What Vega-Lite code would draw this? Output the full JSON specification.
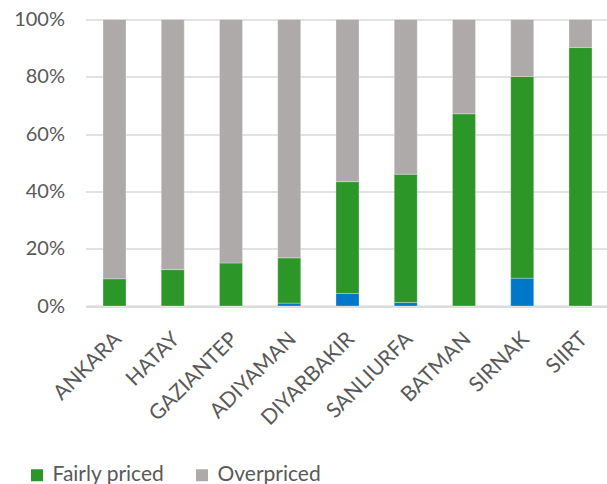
{
  "$schema": "https://vega.github.io/schema/vega-lite/v6.json",
  "autosize": {"type": "none"},
  "width": 521.5,
  "height": 286.5,
  "padding": {"left": 85.5, "top": 19.5, "right": 0, "bottom": 178},
  "background": "white",
  "config": {
    "view": {"stroke": null},
    "font": "Lato",
    "axis": {"labelFont": "Lato", "labelColor": "#595959", "labelFontSize": 20, "title": null}
  },
  "data": {
    "values": [
      {"city": "ANKARA", "category": "Underpriced", "level": 1, "share": 0},
      {"city": "ANKARA", "category": "Fairly priced", "level": 2, "share": 9.5},
      {"city": "ANKARA", "category": "Overpriced", "level": 3, "share": 90.5},
      {"city": "HATAY", "category": "Underpriced", "level": 1, "share": 0},
      {"city": "HATAY", "category": "Fairly priced", "level": 2, "share": 12.7},
      {"city": "HATAY", "category": "Overpriced", "level": 3, "share": 87.3},
      {"city": "GAZIANTEP", "category": "Underpriced", "level": 1, "share": 0},
      {"city": "GAZIANTEP", "category": "Fairly priced", "level": 2, "share": 15.0},
      {"city": "GAZIANTEP", "category": "Overpriced", "level": 3, "share": 85.0},
      {"city": "ADIYAMAN", "category": "Underpriced", "level": 1, "share": 1.0},
      {"city": "ADIYAMAN", "category": "Fairly priced", "level": 2, "share": 15.8},
      {"city": "ADIYAMAN", "category": "Overpriced", "level": 3, "share": 83.2},
      {"city": "DIYARBAKIR", "category": "Underpriced", "level": 1, "share": 4.4},
      {"city": "DIYARBAKIR", "category": "Fairly priced", "level": 2, "share": 39.0},
      {"city": "DIYARBAKIR", "category": "Overpriced", "level": 3, "share": 56.6},
      {"city": "SANLIURFA", "category": "Underpriced", "level": 1, "share": 1.2},
      {"city": "SANLIURFA", "category": "Fairly priced", "level": 2, "share": 44.8},
      {"city": "SANLIURFA", "category": "Overpriced", "level": 3, "share": 54.0},
      {"city": "BATMAN", "category": "Underpriced", "level": 1, "share": 0},
      {"city": "BATMAN", "category": "Fairly priced", "level": 2, "share": 67.1},
      {"city": "BATMAN", "category": "Overpriced", "level": 3, "share": 32.9},
      {"city": "SIRNAK", "category": "Underpriced", "level": 1, "share": 9.7},
      {"city": "SIRNAK", "category": "Fairly priced", "level": 2, "share": 70.4},
      {"city": "SIRNAK", "category": "Overpriced", "level": 3, "share": 19.9},
      {"city": "SIIRT", "category": "Underpriced", "level": 1, "share": 0},
      {"city": "SIIRT", "category": "Fairly priced", "level": 2, "share": 90.2},
      {"city": "SIIRT", "category": "Overpriced", "level": 3, "share": 9.8}
    ]
  },
  "mark": {"type": "bar", "stroke": "white", "strokeWidth": 0.8, "strokeOpacity": 0.35},
  "encoding": {
    "x": {
      "field": "city",
      "type": "nominal",
      "sort": null,
      "scale": {"paddingInner": 0.605, "paddingOuter": 0.279, "align": 0.538},
      "axis": {
        "labelAngle": -45,
        "ticks": false,
        "domain": true,
        "domainColor": "#d9d9d9",
        "domainWidth": 2,
        "labelPadding": 22,
        "labelOffset": -4,
        "labelFontSize": 21
      }
    },
    "y": {
      "field": "share",
      "type": "quantitative",
      "stack": "normalize",
      "scale": {"domain": [0, 1]},
      "axis": {
        "format": ".0%",
        "values": [0, 0.2, 0.4, 0.6, 0.8, 1],
        "ticks": false,
        "domain": false,
        "grid": true,
        "gridColor": "#d9d9d9",
        "gridWidth": 1.5,
        "labelPadding": 21
      }
    },
    "order": {"field": "level", "type": "quantitative", "sort": "ascending"},
    "color": {
      "field": "category",
      "type": "nominal",
      "sort": ["Underpriced", "Fairly priced", "Overpriced"],
      "scale": {
        "domain": ["Underpriced", "Fairly priced", "Overpriced"],
        "range": ["#0077c8", "#2d9629", "#aeaaaa"]
      },
      "legend": {
        "title": null,
        "orient": "none",
        "direction": "horizontal",
        "legendX": -227,
        "legendY": 445,
        "padding": 0,
        "symbolType": "square",
        "symbolSize": 144,
        "symbolStrokeWidth": 0,
        "labelFont": "Lato",
        "labelFontSize": 21,
        "labelColor": "#595959",
        "labelOffset": 5,
        "columnPadding": 27
      }
    }
  }
}
